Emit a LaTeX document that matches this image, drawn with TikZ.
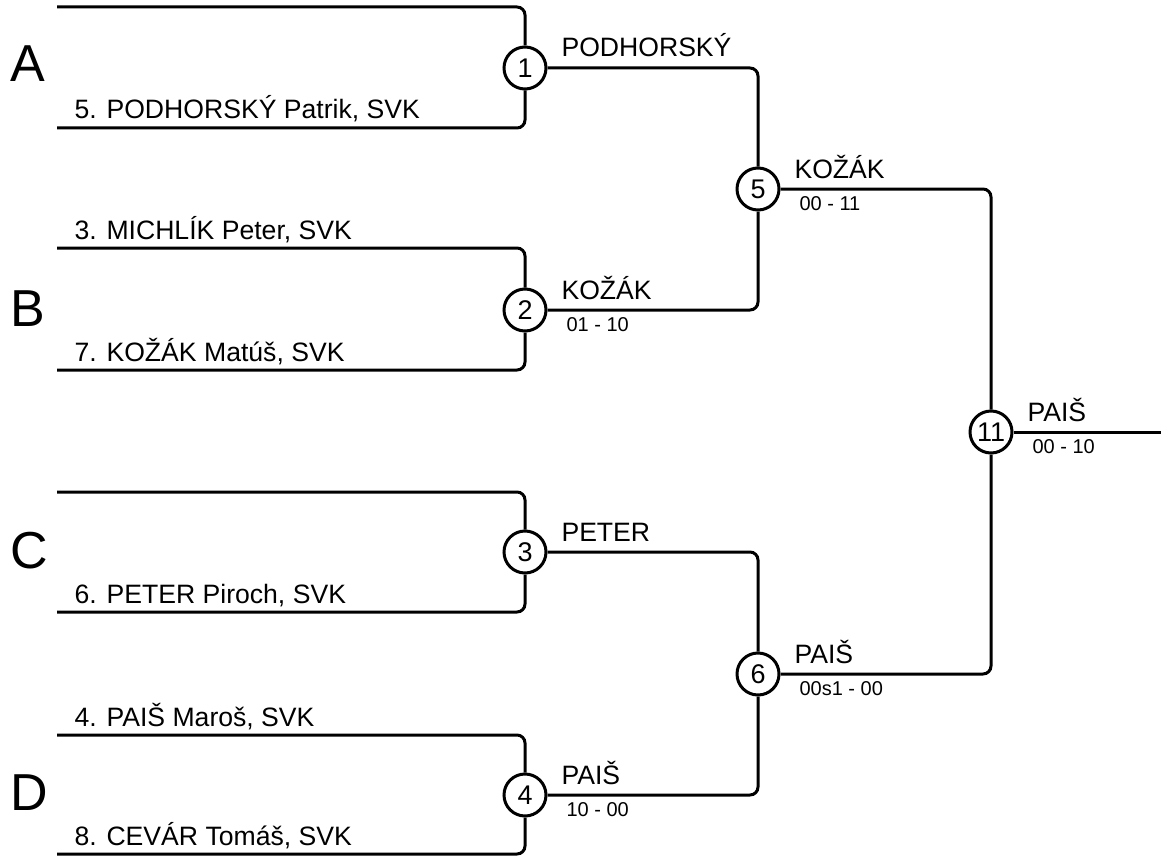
\documentclass[tikz,border=0pt]{standalone}
\usepackage{fontspec}
\setmainfont{Liberation Sans}
\usetikzlibrary{positioning}

\begin{document}
\begin{tikzpicture}[x=0.5pt, y=-0.5pt, line width=1.5pt,
    bracket/.style={draw, rounded corners=4pt},
    match/.style={draw, circle, minimum size=21pt, inner sep=0pt, fill=white, font=\fontsize{13.5}{15}\selectfont},
    player/.style={anchor=base west, inner sep=0pt, font=\fontsize{13.3}{16}\selectfont},
    winner/.style={anchor=base west, inner sep=0pt, font=\fontsize{13.3}{16}\selectfont},
    score/.style={anchor=base west, inner sep=0pt, font=\fontsize{10}{12}\selectfont},
    group/.style={anchor=west, inner sep=0pt, font=\fontsize{26}{30}\selectfont}]
    \useasboundingbox (0,0) rectangle (1161,856);

    % Matches
    \node[match] (m1) at (525,68) {1};
    \node[match] (m2) at (525,310) {2};
    \node[match] (m3) at (525,552) {3};
    \node[match] (m4) at (525,795) {4};
    \node[match] (m5) at (758,189) {5};
    \node[match] (m6) at (758,674) {6};
    \node[match] (m11) at (991,432) {11};

    % Groups
    \node[group] (ga) at (9,64) {A};
    \node[group] (gb) at (9,309) {B};
    \node[group] (gc) at (9,551) {C};
    \node[group] (gd) at (9,793) {D};

    % First round
    \coordinate (a1) at (57,7);   \coordinate (a2) at (57,128);
    \coordinate (b1) at (57,248); \coordinate (b2) at (57,370);
    \coordinate (c1) at (57,492); \coordinate (c2) at (57,612);
    \coordinate (d1) at (57,735); \coordinate (d2) at (57,854);
    \draw[bracket] (a1) -| (m1);
    \draw[bracket] (a2) -| (m1);
    \draw[bracket] (b1) -| (m2);
    \draw[bracket] (b2) -| (m2);
    \draw[bracket] (c1) -| (m3);
    \draw[bracket] (c2) -| (m3);
    \draw[bracket] (d1) -| (m4);
    \draw[bracket] (d2) -| (m4);

    \node[player] (pa2) at (73,119) {5. PODHORSKÝ Patrik, SVK};
    \node[player] (pb1) at (73,239) {3. MICHLÍK Peter, SVK};
    \node[player] (pb2) at (73,361) {7. KOŽÁK Matúš, SVK};
    \node[player] (pc2) at (73,603) {6. PETER Piroch, SVK};
    \node[player] (pd1) at (73,726) {4. PAIŠ Maroš, SVK};
    \node[player] (pd2) at (73,845) {8. CEVÁR Tomáš, SVK};

    % Semifinals
    \draw[bracket] (m1) -| (m5);
    \draw[bracket] (m2) -| (m5);
    \draw[bracket] (m3) -| (m6);
    \draw[bracket] (m4) -| (m6);
    \node[winner] (w1) at (560,57) {PODHORSKÝ};
    \node[winner] (w2) at (560,299) {KOŽÁK};
    \node[score] (s2) at (565,331) {01 - 10};
    \node[winner] (w3) at (560,541) {PETER};
    \node[winner] (w4) at (560,784) {PAIŠ};
    \node[score] (s4) at (565,816) {10 - 00};

    % Final
    \draw[bracket] (m5) -| (m11);
    \draw[bracket] (m6) -| (m11);
    \coordinate (out) at (1161,432);
    \draw (m11) -- (out);
    \node[winner] (w5) at (793,178) {KOŽÁK};
    \node[score] (s5) at (798,210) {00 - 11};
    \node[winner] (w6) at (793,663) {PAIŠ};
    \node[score] (s6) at (798,695) {00s1 - 00};
    \node[winner] (w11) at (1026,421) {PAIŠ};
    \node[score] (s11) at (1031,453) {00 - 10};
\end{tikzpicture}
\end{document}
